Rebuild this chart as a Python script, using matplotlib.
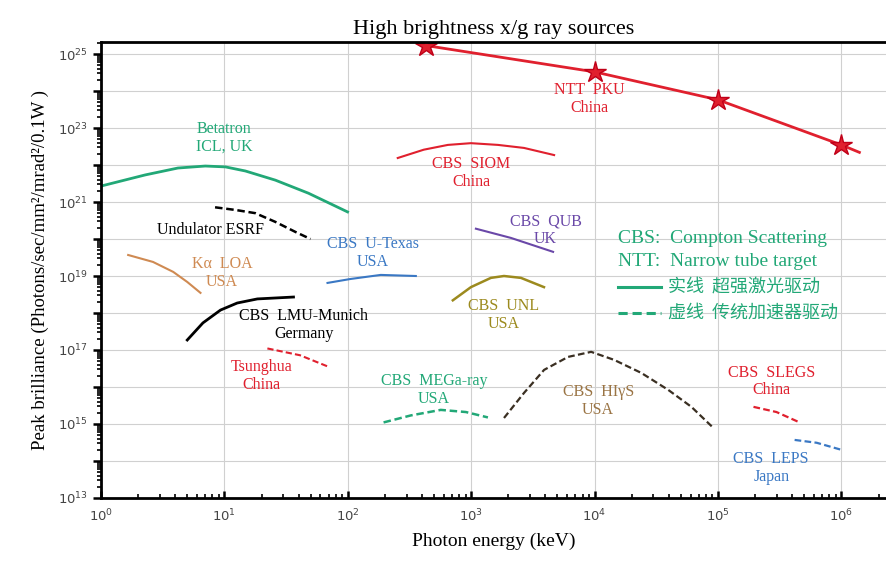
import numpy as np
import matplotlib
matplotlib.use("Agg")
from matplotlib import pyplot as plt
from matplotlib.ticker import LogLocator, FixedLocator, FuncFormatter, NullFormatter

# ---- data (keV, brilliance) ----
ntt_x = [430, 1.0e4, 1.0e5, 1.0e6, 1.4e6]
ntt_y = [1.7e25, 3.3e24, 5.8e23, 3.5e22, 2.2e22]
star_x = [430, 1.0e4, 1.0e5, 1.0e6]
star_y = [1.7e25, 3.3e24, 5.8e23, 3.5e22]

betatron_x = [1.0, 2.28, 4.2, 7.0, 10.2, 14.8, 25.9, 48, 99.6]
betatron_y = [2.7e21, 5.4e21, 8.3e21, 9.4e21, 8.9e21, 6.9e21, 3.9e21, 1.73e21, 5.4e20]

esrf_x = [8.4, 12.3, 17.8, 25.9, 37.7, 49.9]
esrf_y = [7.2e20, 6.1e20, 5.0e20, 2.9e20, 1.55e20, 1.0e20]

kalpha_x = [1.66, 2.64, 3.85, 5.0, 6.4]
kalpha_y = [3.7e19, 2.4e19, 1.29e19, 6.9e18, 3.5e18]

utexas_x = [68.5, 105, 185, 356]
utexas_y = [6.5e18, 8.3e18, 1.07e19, 1.0e19]

lmu_x = [5.0, 6.7, 9.3, 12.7, 18.5, 36.3]
lmu_y = [1.86e17, 5.4e17, 1.2e18, 1.86e18, 2.4e18, 2.7e18]

tsinghua_x = [22.3, 41, 70]
tsinghua_y = [1.1e17, 7.2e16, 3.5e16]

mega_x = [195, 324, 567, 906, 1367]
mega_y = [1.1e15, 1.7e15, 2.4e15, 2.1e15, 1.5e15]

higs_x = [1845, 2680, 3900, 6100, 9380, 14400, 23900, 39600, 60900, 91800]
higs_y = [1.45e15, 6.9e15, 2.9e16, 6.5e16, 8.9e16, 5.4e16, 2.4e16, 8.3e15, 2.9e15, 7.8e14]

slegs_x = [1.94e5, 2.98e5, 4.59e5]
slegs_y = [2.9e15, 2.1e15, 1.1e15]

leps_x = [4.18e5, 6.31e5, 1.0e6]
leps_y = [3.7e14, 3.1e14, 2.0e14]

siom_x = [254, 413, 647, 995, 1650, 2680, 4700]
siom_y = [1.55e22, 2.6e22, 3.5e22, 3.9e22, 3.5e22, 2.9e22, 1.86e22]

qub_x = [1092, 2100, 4610]
qub_y = [1.9e20, 1.07e20, 4.5e19]

unl_x = [710, 995, 1445, 1845, 2530, 3890]
unl_y = [2.2e18, 5.0e18, 8.9e18, 1.0e19, 8.9e18, 5.0e18]

x_decades = [1e0, 1e1, 1e2, 1e3, 1e4, 1e5, 1e6]
y_decades = [10.0 ** k for k in range(13, 26)]

green = "#22a877"
red = "#e0202e"
blue = "#3a78c4"
orange = "#cf8a52"
purple = "#6a48a8"
olive = "#9c8a1e"
brown = "#9a7444"

plt.rcParams['font.family'] = ['Liberation Serif', 'DejaVu Sans']

fig = plt.figure(figsize=(8.86, 5.62), dpi=100)
ax = fig.add_axes([0.114, 0.114, 0.886, 0.811])
ax.set_xscale("log")
ax.set_yscale("log")
ax.set_xlim(1, 2.3e6)
ax.set_ylim(1e13, 2.1e25)

dash = (0, (3, 1.5))

# curves
ax.plot(ntt_x, ntt_y, color=red, lw=2)
ax.plot(star_x, star_y, ls="none", marker="*", ms=16, color=red, mec="#c00018")
ax.plot(betatron_x, betatron_y, color=green, lw=2)
ax.plot(esrf_x, esrf_y, color="black", lw=1.8, ls=dash)
ax.plot(kalpha_x, kalpha_y, color=orange, lw=1.5)
ax.plot(utexas_x, utexas_y, color=blue, lw=1.5)
ax.plot(lmu_x, lmu_y, color="black", lw=2)
ax.plot(tsinghua_x, tsinghua_y, color=red, lw=1.5, ls=dash)
ax.plot(mega_x, mega_y, color=green, lw=1.8, ls=dash)
ax.plot(higs_x, higs_y, color="#3a2f22", lw=1.6, ls=dash)
ax.plot(slegs_x, slegs_y, color=red, lw=1.6, ls=dash)
ax.plot(leps_x, leps_y, color=blue, lw=1.6, ls=dash)
ax.plot(siom_x, siom_y, color=red, lw=1.5)
ax.plot(qub_x, qub_y, color=purple, lw=1.5)
ax.plot(unl_x, unl_y, color=olive, lw=1.8)

# labels
fs = 11.5
def lab(x, y, s, c):
    ax.text(x, y, s, color=c, fontsize=fs, ha="center", va="center", linespacing=1.15)

lab(10, 5.4e22, "Betatron\nICL, UK", green)
lab(9100, 6.0e23, "NTT  PKU\nChina", red)
lab(1000, 6.0e21, "CBS  SIOM\nChina", red)
lab(7.7, 1.75e20, "Undulator ESRF", "black")
lab(159, 4.2e19, "CBS  U-Texas\nUSA", blue)
lab(9.6, 1.2e19, "K\u03b1  LOA\nUSA", orange)
lab(4000, 1.75e20, "CBS  QUB\nUK", purple)
lab(1845, 9.0e17, "CBS  UNL\nUSA", olive)
lab(44, 4.8e17, "CBS  LMU-Munich\nGermany", "black")
lab(20, 2.0e16, "Tsunghua\nChina", red)
lab(500, 8.3e15, "CBS  MEGa-ray\nUSA", green)
lab(10700, 4.2e15, "CBS  HI\u03b3S\nUSA", brown)
lab(2.7e5, 1.4e16, "CBS  SLEGS\nChina", red)
lab(2.7e5, 6.5e13, "CBS  LEPS\nJapan", blue)

# legend-ish block
ax.text(0.658, 0.570, "CBS:  Compton Scattering", transform=ax.transAxes,
        color=green, fontsize=14, va="center")
ax.text(0.658, 0.518, "NTT:  Narrow tube target", transform=ax.transAxes,
        color=green, fontsize=14, va="center")
ax.plot([0.658, 0.713], [0.463, 0.463], transform=ax.transAxes, color=green, lw=2.2)
ax.plot([0.658, 0.713], [0.406, 0.406], transform=ax.transAxes, color=green, lw=2.2,
        ls=(0, (3, 1.6)))
ax.text(0.722, 0.463, "实线  超强激光驱动", transform=ax.transAxes, color=green,
        fontsize=13, va="center", family=['Noto Sans CJK SC', 'DejaVu Sans'])
ax.text(0.722, 0.406, "虚线  传统加速器驱动", transform=ax.transAxes, color=green,
        fontsize=13, va="center", family=['Noto Sans CJK SC', 'DejaVu Sans'])

# axes styling
ax.grid(True, which="major", color="#d0d0d0", lw=0.8)
for s in ["left", "bottom", "top"]:
    ax.spines[s].set_linewidth(2)
ax.spines["right"].set_visible(False)

ax.xaxis.set_major_locator(FixedLocator(x_decades))
ax.xaxis.set_minor_locator(LogLocator(base=10, subs=np.arange(2, 10), numticks=10))
ax.yaxis.set_major_locator(FixedLocator(y_decades))
ax.yaxis.set_minor_locator(LogLocator(base=10, subs=np.arange(2, 10), numticks=20))
ax.xaxis.set_minor_formatter(NullFormatter())
ax.yaxis.set_minor_formatter(NullFormatter())

def yfmt(v, pos):
    e = int(round(np.log10(v)))
    if e % 2 == 1:
        return r"$10^{%d}$" % e
    return ""

def xfmt(v, pos):
    e = int(round(np.log10(v)))
    return r"$10^{%d}$" % e

ax.yaxis.set_major_formatter(FuncFormatter(yfmt))
ax.xaxis.set_major_formatter(FuncFormatter(xfmt))
ax.tick_params(axis="both", which="major", labelsize=9.5, labelcolor="#444444", width=1.8)
ax.tick_params(axis="y", which="major", direction="out", length=6)
ax.tick_params(axis="y", which="minor", direction="out", length=3, width=1.2)
ax.tick_params(axis="x", which="major", direction="in", length=5)
ax.tick_params(axis="x", which="minor", direction="in", length=3, width=1.2)
ax.tick_params(axis="x", which="major", pad=7)

ax.set_title("High brightness x/g ray sources", fontsize=16, pad=6)
ax.set_xlabel("Photon energy (keV)", fontsize=14, labelpad=6)
ax.set_ylabel("Peak brilliance (Photons/sec/mm\u00b2/mrad\u00b2/0.1W )", fontsize=13.5, labelpad=6)

fig.savefig("out.png", dpi=100)
